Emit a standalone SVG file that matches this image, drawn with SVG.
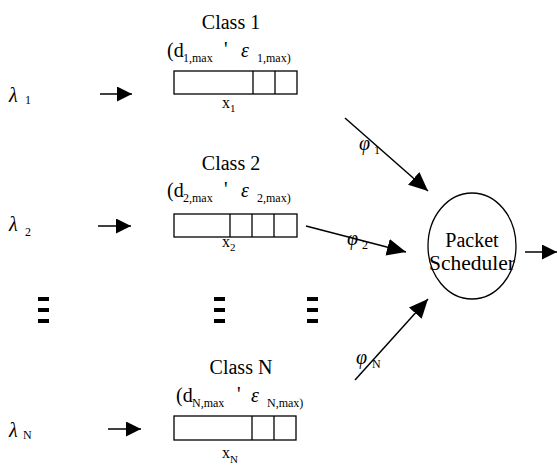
<svg xmlns="http://www.w3.org/2000/svg" width="557" height="467" viewBox="0 0 557 467">
<style>
text{font-family:"Liberation Serif","DejaVu Serif",serif;fill:#000}
.t{font-size:20px}
.s{font-size:12px}
.x{font-size:16px}
.xs{font-size:11px}
.g{font-size:20px;font-style:italic}
.box{fill:#fff;stroke:#000;stroke-width:1.3}
.ln{stroke:#000;stroke-width:1.5;fill:none}
.dv{stroke:#000;stroke-width:1.3}
.bar{fill:#000}
</style>
<defs>
<marker id="ah" viewBox="0 0 10 10" refX="10" refY="5" markerWidth="15" markerHeight="15" markerUnits="userSpaceOnUse" orient="auto">
<path d="M0,0 L10,5 L0,10 Z" fill="#000"/>
</marker>
<marker id="ahb" viewBox="0 0 10 10" refX="10" refY="5" markerWidth="19" markerHeight="19" markerUnits="userSpaceOnUse" orient="auto">
<path d="M0,0.5 L10,5 L0,9.5 Z" fill="#000"/>
</marker>
</defs>

<g id="lambda1"><text class="g" x="9" y="102">λ</text><text class="s" x="25" y="104">1</text></g>
<g id="lambda2"><text class="g" x="9" y="231">λ</text><text class="s" x="25" y="236">2</text></g>
<g id="lambdaN"><text class="g" x="9" y="437">λ</text><text class="s" x="23" y="439">N</text></g>

<g id="class1">
<text class="t" x="231" y="29" text-anchor="middle">Class 1</text>
<text class="t" x="167" y="57">(d</text><text class="s" x="183" y="62">1,max</text>
<text class="t" x="224" y="56">'</text>
<text class="g" x="241" y="57">ε</text><text class="s" x="257" y="62">1,max)</text>
<rect class="box" x="174" y="71" width="123" height="23"/>
<line class="dv" x1="253" y1="71" x2="253" y2="94"/>
<line class="dv" x1="275" y1="71" x2="275" y2="94"/>
<text class="x" x="222" y="108">x</text><text class="xs" x="230" y="112">1</text>
</g>

<g id="class2">
<text class="t" x="231" y="170" text-anchor="middle">Class 2</text>
<text class="t" x="167" y="197">(d</text><text class="s" x="183" y="202">2,max</text>
<text class="t" x="224" y="196">'</text>
<text class="g" x="241" y="197">ε</text><text class="s" x="257" y="202">2,max)</text>
<rect class="box" x="174" y="214" width="123" height="23"/>
<line class="dv" x1="230" y1="214" x2="230" y2="237"/>
<line class="dv" x1="252" y1="214" x2="252" y2="237"/>
<line class="dv" x1="274" y1="214" x2="274" y2="237"/>
<text class="x" x="222" y="247">x</text><text class="xs" x="230" y="251">2</text>
</g>

<g id="classN">
<text class="t" x="241" y="374" text-anchor="middle">Class N</text>
<text class="t" x="176" y="402">(d</text><text class="s" x="192" y="407">N,max</text>
<text class="t" x="237" y="401">'</text>
<text class="g" x="251" y="402">ε</text><text class="s" x="267" y="407">N,max)</text>
<rect class="box" x="174" y="416" width="122" height="24"/>
<line class="dv" x1="252" y1="416" x2="252" y2="440"/>
<line class="dv" x1="274" y1="416" x2="274" y2="440"/>
<text class="x" x="222" y="458">x</text><text class="xs" x="230" y="463">N</text>
</g>

<g id="scheduler">
<ellipse cx="472" cy="246" rx="44" ry="53" fill="#fff" stroke="#000" stroke-width="1.3"/>
<text class="t" x="472" y="247" text-anchor="middle">Packet</text>
<text class="t" x="472" y="270" text-anchor="middle" textLength="86" lengthAdjust="spacingAndGlyphs">Scheduler</text>
</g>

<g id="ellipsis">
<rect class="bar" x="38" y="297" width="11" height="4"/>
<rect class="bar" x="38" y="308" width="11" height="4"/>
<rect class="bar" x="38" y="319" width="11" height="4"/>
<rect class="bar" x="214" y="297" width="11" height="4"/>
<rect class="bar" x="214" y="308" width="11" height="4"/>
<rect class="bar" x="214" y="319" width="11" height="4"/>
<rect class="bar" x="307" y="297" width="11" height="4"/>
<rect class="bar" x="307" y="308" width="11" height="4"/>
<rect class="bar" x="307" y="319" width="11" height="4"/>
</g>

<g id="connectors">
<line class="ln" x1="100" y1="94" x2="132" y2="94" marker-end="url(#ah)"/>
<line class="ln" x1="98" y1="226" x2="131" y2="226" marker-end="url(#ah)"/>
<line class="ln" x1="108" y1="429" x2="141" y2="429" marker-end="url(#ah)"/>
<line class="ln" x1="345" y1="118" x2="428" y2="191" marker-end="url(#ahb)"/>
<line class="ln" x1="306" y1="226" x2="406" y2="252" marker-end="url(#ahb)"/>
<line class="ln" x1="355" y1="380" x2="428" y2="299" marker-end="url(#ahb)"/>
<line class="ln" x1="525" y1="252" x2="557" y2="252" marker-end="url(#ah)"/>
<text class="g" x="359" y="150">φ</text><text class="s" x="374" y="154">1</text>
<text class="g" x="347" y="245">φ</text><text class="s" x="362" y="249">2</text>
<text class="g" x="356" y="364">φ</text><text class="s" x="372" y="368">N</text>
</g>
</svg>
